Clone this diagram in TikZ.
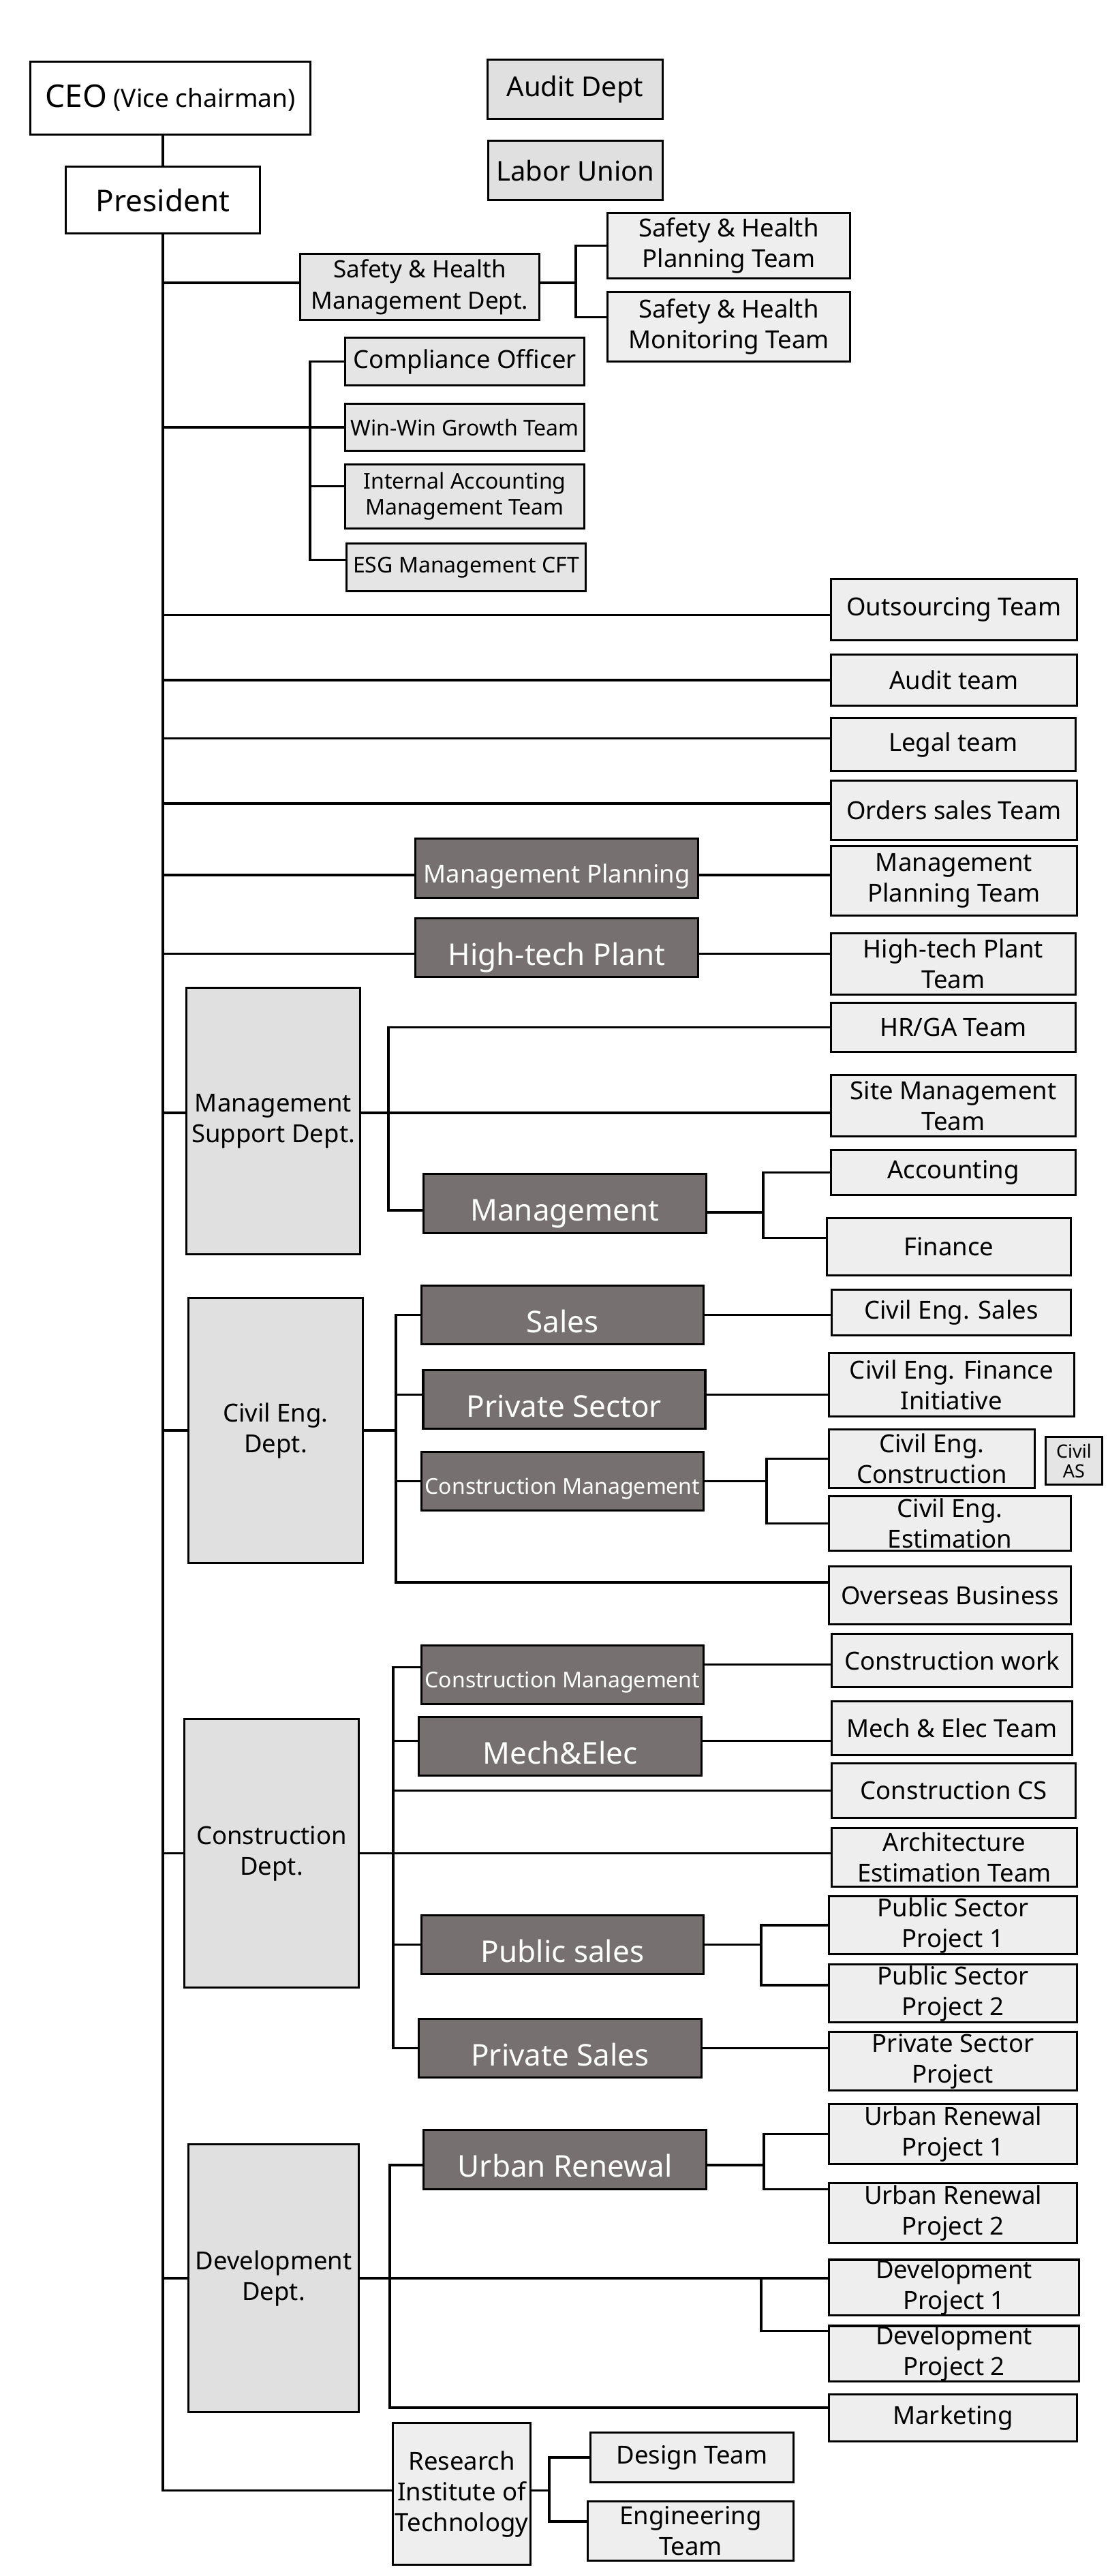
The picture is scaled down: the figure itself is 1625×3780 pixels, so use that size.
\documentclass[tikz,border=0pt]{standalone}
\usepackage{fontspec}
\setmainfont{Noto Sans}

\definecolor{teamgray}{HTML}{EEEEEE}
\definecolor{deptgray}{HTML}{E0E0E0}
\definecolor{staffgray}{HTML}{E5E5E5}
\definecolor{unitgray}{HTML}{767070}

\newcommand{\fsnorm}{\fontsize{36.5}{45}\selectfont}
\newcommand{\fsbig}{\fontsize{44}{52}\selectfont}
\newcommand{\fssmall}{\fontsize{32}{38}\selectfont}

\tikzset{
  orgbox/.style={draw, line width=3.5pt, inner sep=0pt, align=center, font=\fsnorm},
  teambox/.style={orgbox, fill=teamgray},
  deptbox/.style={orgbox, fill=deptgray},
  staffbox/.style={orgbox, fill=staffgray},
  unitbox/.style={orgbox, fill=unitgray, text=white, font=\fsbig, text height=51pt, text depth=0pt},
  link/.style={line width=3.5pt, line cap=rect},
}

\begin{document}
\begin{tikzpicture}[x=1pt, y=-1pt]
  \useasboundingbox (0,0) rectangle (1625,3780);

  % top
  \node[orgbox, fill=white, minimum width=411pt, minimum height=107pt] (ceo) at (250,144)
    {{\fontsize{46}{50}\selectfont CEO} {\fontsize{37}{45}\selectfont (Vice chairman)}};
  \node[deptbox, font=\fontsize{40}{48}\selectfont, minimum width=257pt, minimum height=87pt] (auditdept) at (844,131) {Audit Dept};
  \node[deptbox, font=\fontsize{40}{48}\selectfont, minimum width=256pt, minimum height=87pt] (union) at (844.5,250) {Labor Union};
  \node[orgbox, fill=white, font=\fsbig, minimum width=285pt, minimum height=98pt] (pres) at (239,293.5) {President};

  % staff units
  \node[staffbox, font=\fontsize{35}{46}\selectfont, minimum width=351pt, minimum height=97pt] (shmd) at (616,421) {Safety \& Health\\Management Dept.};
  \node[teambox, minimum width=356pt, minimum height=96pt] (shplan) at (1069.5,360.5) {Safety \& Health\\Planning Team};
  \node[teambox, minimum width=356pt, minimum height=102pt] (shmon) at (1069.5,479.5) {Safety \& Health\\Monitoring Team};
  \node[staffbox, minimum width=351pt, minimum height=70pt] (comp) at (682,530.5) {Compliance Officer};
  \node[staffbox, font=\fssmall, minimum width=351pt, minimum height=69pt] (winwin) at (682,627) {Win-Win Growth Team};
  \node[staffbox, font=\fssmall, minimum width=351pt, minimum height=94pt] (iam) at (682,728.5) {Internal Accounting\\Management Team};
  \node[staffbox, font=\fssmall, minimum width=351pt, minimum height=70pt] (esg) at (684,832.5) {ESG Management CFT};
  \node[teambox, minimum width=361pt, minimum height=90pt] (outs) at (1400,894.5) {Outsourcing Team};
  \node[teambox, minimum width=361pt, minimum height=75pt] (auditteam) at (1400,998) {Audit team};
  \node[teambox, minimum width=359pt, minimum height=78pt] (legal) at (1399,1092.5) {Legal team};
  \node[teambox, minimum width=361pt, minimum height=87pt] (orders) at (1400,1189) {Orders sales Team};
  \node[unitbox, font=\fsnorm, text height=43pt, minimum width=415pt, minimum height=87pt] (mplan) at (817,1274) {Management Planning};
  \node[teambox, minimum width=361pt, minimum height=102pt] (mplanteam) at (1400,1292.5) {Management\\Planning Team};
  \node[unitbox, minimum width=415pt, minimum height=86pt] (htp) at (817,1390.5) {High-tech Plant};
  \node[teambox, minimum width=359pt, minimum height=90pt] (htpteam) at (1399,1414.5) {High-tech Plant\\Team};

  % management support
  \node[deptbox, minimum width=255pt, minimum height=391pt] (msd) at (401,1645) {Management\\Support Dept.};
  \node[teambox, minimum width=359pt, minimum height=72pt] (hrga) at (1399,1507.5) {HR/GA Team};
  \node[teambox, minimum width=359pt, minimum height=90pt] (sitemgmt) at (1399,1622.5) {Site Management\\Team};
  \node[unitbox, minimum width=415pt, minimum height=87pt] (mgmt) at (829,1766) {Management};
  \node[teambox, minimum width=359pt, minimum height=66pt] (acc) at (1399,1720.5) {Accounting};
  \node[teambox, minimum width=358pt, minimum height=84pt] (fin) at (1392.5,1829.5) {Finance};

  % civil engineering
  \node[deptbox, minimum width=256pt, minimum height=389pt] (civil) at (404.5,2099) {Civil Eng.\\Dept.};
  \node[unitbox, minimum width=414pt, minimum height=86pt] (sales) at (825.5,1929.5) {Sales};
  \node[teambox, minimum width=351pt, minimum height=67pt] (cesales) at (1396,1926) {Civil Eng. Sales};
  \node[unitbox, minimum width=414pt, minimum height=86pt] (psector) at (828,2053.5) {Private Sector};
  \node[teambox, minimum width=360pt, minimum height=93pt] (cefi) at (1396.5,2032) {Civil Eng. Finance\\Initiative};
  \node[unitbox, font=\fssmall, text height=38pt, minimum width=414pt, minimum height=86pt] (ccm) at (825.5,2173.5) {Construction Management};
  \node[teambox, minimum width=302pt, minimum height=86pt] (cecons) at (1367.5,2140.5) {Civil Eng.\\Construction};
  \node[staffbox, font=\fontsize{27}{29}\selectfont, minimum width=83pt, minimum height=70pt] (civilas) at (1576,2143.5) {Civil\\AS};
  \node[teambox, minimum width=355pt, minimum height=80pt] (ceest) at (1394,2235.5) {Civil Eng.\\Estimation};
  \node[teambox, minimum width=355pt, minimum height=85pt] (overseas) at (1394,2341) {Overseas Business};

  % construction
  \node[deptbox, minimum width=256pt, minimum height=394pt] (constr) at (398.5,2719.5) {Construction\\Dept.};
  \node[unitbox, font=\fssmall, text height=38pt, minimum width=414pt, minimum height=86pt] (cm) at (825.5,2457.5) {Construction Management};
  \node[teambox, minimum width=353pt, minimum height=78pt] (cwork) at (1397,2436.5) {Construction work};
  \node[unitbox, minimum width=415pt, minimum height=86pt] (me) at (822,2562.5) {Mech\&Elec};
  \node[teambox, minimum width=353pt, minimum height=79pt] (meteam) at (1397,2536) {Mech \& Elec Team};
  \node[teambox, minimum width=358pt, minimum height=80pt] (ccs) at (1399.5,2627.5) {Construction CS};
  \node[teambox, minimum width=360pt, minimum height=86pt] (arch) at (1400.5,2725.5) {Architecture\\Estimation Team};
  \node[unitbox, minimum width=414pt, minimum height=86pt] (pubs) at (825.5,2853.5) {Public sales};
  \node[teambox, minimum width=364pt, minimum height=85pt] (psp1) at (1398.5,2825) {Public Sector\\Project 1};
  \node[teambox, minimum width=364pt, minimum height=85pt] (psp2) at (1398.5,2925) {Public Sector\\Project 2};
  \node[unitbox, minimum width=415pt, minimum height=86pt] (privs) at (822,3005.5) {Private Sales};
  \node[teambox, minimum width=364pt, minimum height=86pt] (prsp) at (1398.5,3024.5) {Private Sector\\Project};

  % development
  \node[deptbox, minimum width=250pt, minimum height=393pt] (devdept) at (401.5,3343) {Development\\Dept.};
  \node[unitbox, minimum width=415pt, minimum height=87pt] (urban) at (829,3169) {Urban Renewal};
  \node[teambox, minimum width=364pt, minimum height=88pt] (urp1) at (1398.5,3131.5) {Urban Renewal\\Project 1};
  \node[teambox, minimum width=364pt, minimum height=88pt] (urp2) at (1398.5,3247.5) {Urban Renewal\\Project 2};
  \node[teambox, minimum width=367pt, minimum height=76pt] (dp1) at (1400,3356.5) {Development\\Project 1};
  \node[teambox, minimum width=367pt, minimum height=76pt] (dp2) at (1400,3453.5) {Development\\Project 2};
  \node[teambox, minimum width=364pt, minimum height=69pt] (mkt) at (1398.5,3548) {Marketing};

  % research
  \node[teambox, minimum width=202pt, minimum height=208pt] (rit) at (677.5,3659.5) {Research\\Institute of\\Technology};
  \node[teambox, minimum width=298pt, minimum height=73pt] (design) at (1015.5,3606) {Design Team};
  \node[teambox, minimum width=302pt, minimum height=87pt] (eng) at (1013.5,3714) {Engineering\\Team};

  % bus lines
  \coordinate (shbus) at (845,0);
  \coordinate (cobus) at (455,0);
  \coordinate (msdbus) at (570,0);
  \coordinate (accbus) at (1120,0);
  \coordinate (civbus) at (581,0);
  \coordinate (ccmbus) at (1125,0);
  \coordinate (conbus) at (577,0);
  \coordinate (pubbus) at (1117,0);
  \coordinate (devbus) at (572,0);
  \coordinate (urbus) at (1121,0);
  \coordinate (dpbus) at (1117,0);
  \coordinate (ritbus) at (806,0);

  % line ends off the box middle
  \coordinate (shmdin) at ([yshift=6pt]shmd.west);
  \coordinate (shmdout) at ([yshift=6pt]shmd.east);
  \coordinate (shmontick) at ([yshift=14pt]shmon.west);
  \coordinate (esgtick) at ([yshift=11pt]esg.west);
  \coordinate (iamtick) at ([yshift=15pt]iam.west);
  \coordinate (outsin) at ([yshift=-8pt]outs.west);
  \coordinate (legalin) at ([yshift=9pt]legal.west);
  \coordinate (ordersin) at ([yshift=10pt]orders.west);
  \coordinate (mplanin) at ([yshift=-10pt]mplan.west);
  \coordinate (mplanout) at ([yshift=-10pt]mplan.east);
  \coordinate (htpin) at ([yshift=-9pt]htp.west);
  \coordinate (htpout) at ([yshift=-9pt]htp.east);
  \coordinate (msdin) at ([yshift=12pt]msd.west);
  \coordinate (msdout) at ([yshift=12pt]msd.east);
  \coordinate (mgmtin) at ([yshift=-10pt]mgmt.west);
  \coordinate (mgmtout) at ([yshift=-13pt]mgmt.east);
  \coordinate (fintick) at ([yshift=13pt]fin.west);
  \coordinate (psectorin) at ([yshift=7pt]psector.west);
  \coordinate (psectorout) at ([yshift=7pt]psector.east);
  \coordinate (overtick) at ([yshift=19pt]overseas.west);
  \coordinate (cmin) at ([yshift=11pt]cm.west);
  \coordinate (cmout) at ([yshift=15pt]cm.east);
  \coordinate (mein) at ([yshift=8pt]me.west);
  \coordinate (meout) at ([yshift=8pt]me.east);
  \coordinate (psp2tick) at ([yshift=12pt]psp2.west);
  \coordinate (urbanin) at ([yshift=-8pt]urban.west);
  \coordinate (urbanout) at ([yshift=-8pt]urban.east);
  \coordinate (urp2tick) at ([yshift=35pt]urp2.west);
  \coordinate (dp2tick) at ([yshift=33pt]dp2.west);
  \coordinate (mkttick) at ([yshift=15pt]mkt.west);
  \coordinate (ritin) at ([yshift=5pt]rit.west);
  \coordinate (ritout) at ([yshift=5pt]rit.east);
  \coordinate (engtick) at ([yshift=14pt]eng.west);

  \scope[link]
  % trunk
  \draw (ceo.south -| pres.north) -- (pres.north);
  \draw (pres.south) -- (pres.south |- ritin) -- (ritin);
  \draw (pres.south |- shmdin) -- (shmdin);
  \draw (pres.south |- winwin.west) -- (winwin.west);
  \draw (pres.south |- outsin) -- (outsin);
  \draw (pres.south |- auditteam.west) -- (auditteam.west);
  \draw (pres.south |- legalin) -- (legalin);
  \draw (pres.south |- ordersin) -- (ordersin);
  \draw (pres.south |- mplanin) -- (mplanin);
  \draw (pres.south |- htpin) -- (htpin);
  \draw (pres.south |- msdin) -- (msdin);
  \draw (pres.south |- civil.west) -- (civil.west);
  \draw (pres.south |- constr.west) -- (constr.west);
  \draw (pres.south |- devdept.west) -- (devdept.west);
  % staff
  \draw (shmdout) -- (shbus |- shmdout);
  \draw (shplan.west) -| (shbus |- shmontick) -- (shmontick);
  \draw (comp.west) -| (cobus |- esgtick) -- (esgtick);
  \draw (iamtick) -- (cobus |- iamtick);
  \draw (mplanout) -- (mplanout -| mplanteam.west);
  \draw (htpout) -- (htpout -| htpteam.west);
  % management support
  \draw (msdout) -- (msdout -| sitemgmt.west);
  \draw (hrga.west) -| (msdbus |- mgmtin) -- (mgmtin);
  \draw (mgmtout) -- (accbus |- mgmtout);
  \draw (acc.west) -| (accbus |- fintick) -- (fintick);
  % civil engineering
  \draw (civil.east) -- (civil.east -| civbus);
  \draw (sales.west) -| (civbus |- overtick) -- (overtick);
  \draw (psectorin) -- (civbus |- psectorin);
  \draw (ccm.west) -- (ccm.west -| civbus);
  \draw (sales.east) -- (sales.east -| cesales.west);
  \draw (psectorout) -- (psectorout -| cefi.west);
  \draw (ccm.east) -- (ccm.east -| ccmbus);
  \draw (cecons.west) -| (ccmbus |- ceest.west) -- (ceest.west);
  % construction
  \draw (constr.east) -- (constr.east -| arch.west);
  \draw (cmin) -| (conbus |- privs.west) -- (privs.west);
  \draw (mein) -- (conbus |- mein);
  \draw (conbus |- ccs.west) -- (ccs.west);
  \draw (pubs.west) -- (pubs.west -| conbus);
  \draw (cmout) -- (cmout -| cwork.west);
  \draw (meout) -- (meout -| meteam.west);
  \draw (pubs.east) -- (pubs.east -| pubbus);
  \draw (psp1.west) -| (pubbus |- psp2tick) -- (psp2tick);
  \draw (privs.east) -- (privs.east -| prsp.west);
  % development
  \draw (devdept.east) -- (devdept.east -| dp1.west);
  \draw (urbanin) -| (devbus |- mkttick) -- (mkttick);
  \draw (devdept.east -| dpbus) |- (dp2tick);
  \draw (urbanout) -- (urbus |- urbanout);
  \draw (urp1.west) -| (urbus |- urp2tick) -- (urp2tick);
  % research
  \draw (ritout) -- (ritbus |- ritout);
  \draw (design.west) -| (ritbus |- engtick) -- (engtick);
  \endscope
\end{tikzpicture}
\end{document}
